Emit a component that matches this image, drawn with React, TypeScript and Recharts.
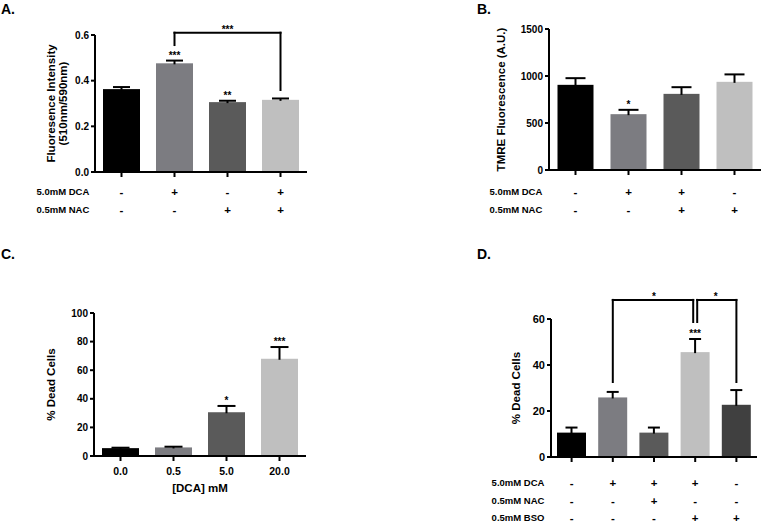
import { BarChart, Bar, XAxis, YAxis, Cell, ReferenceLine } from "recharts";

const FONT = '"Liberation Sans", Arial, Helvetica, sans-serif';

// A. DCFDA fluorescence
const A_GROUPS = ["a1", "a2", "a3", "a4"];
const A_VALUES = [0.363, 0.476, 0.306, 0.316];
const A_ERRORS = [0.009, 0.012, 0.006, 0.006];
const A_SIG = ["", "***", "**", ""];
const A_DCA = ["-", "+", "-", "+"];
const A_NAC = ["-", "-", "+", "+"];
const A_TICKS = [0, 0.2, 0.4, 0.6];

// B. TMRE
const B_GROUPS = ["b1", "b2", "b3", "b4"];
const B_VALUES = [906, 594, 810, 938];
const B_ERRORS = [71, 46, 71, 79];
const B_SIG = ["", "*", "", ""];
const B_DCA = ["-", "+", "+", "-"];
const B_NAC = ["-", "-", "+", "+"];
const B_TICKS = [0, 500, 1000, 1500];

// C. dose response
const C_DOSES = ["0.0", "0.5", "5.0", "20.0"];
const C_VALUES = [5.5, 6.0, 30.6, 68.0];
const C_ERRORS = [0.3, 0.5, 4.4, 8.2];
const C_SIG = ["", "", "*", "***"];
const C_TICKS = [0, 20, 40, 60, 80, 100];

// D. NAC / BSO
const D_GROUPS = ["d1", "d2", "d3", "d4", "d5"];
const D_VALUES = [10.6, 25.9, 10.6, 45.6, 22.7];
const D_ERRORS = [2.2, 2.4, 2.2, 5.7, 6.4];
const D_SIG = ["", "", "", "***", ""];
const D_DCA = ["-", "+", "+", "+", "-"];
const D_NAC = ["-", "-", "+", "-", "-"];
const D_BSO = ["-", "-", "-", "+", "+"];
const D_TICKS = [0, 20, 40, 60];

const A_BRACKETS = [
  { from: "a2", to: "a4", top: 0.61, fromY: 0.556, toY: 0.359, label: "***", dxFrom: 0, dxTo: 0 },
];
const D_BRACKETS = [
  { from: "d2", to: "d4", top: 68.3, fromY: 32.6, toY: 58.7, label: "*", dxFrom: 0, dxTo: -2 },
  { from: "d4", to: "d5", top: 68.3, fromY: 58.7, toY: 32.6, label: "*", dxFrom: 2, dxTo: 0 },
];

const COLORS_4 = ["#000000", "#7c7c81", "#5a5a5a", "#bfbfbf"];
const COLORS_5 = ["#000000", "#7c7c81", "#5a5a5a", "#bfbfbf", "#404040"];

function makeRows(names: string[], values: number[], errors: number[], sig: string[]) {
  return names.map((name, i) => ({ name, value: values[i], err: errors[i], sig: sig[i] }));
}

function BarWithError(props: any) {
  const { x, y, width, height, fill, payload, capHalf } = props;
  const perUnit = payload.value ? height / payload.value : 0;
  const top = y - payload.err * perUnit;
  const cx = x + width / 2;
  return (
    <g>
      <rect x={x} y={y} width={width} height={height} fill={fill} />
      <line x1={cx} y1={y + 1} x2={cx} y2={top} stroke="#000" strokeWidth={2} />
      <line x1={cx - capHalf} y1={top} x2={cx + capHalf} y2={top} stroke="#000" strokeWidth={2} />
      {payload.sig ? (
        <text x={cx} y={top - 2} textAnchor="middle" fontSize={10} fontWeight="bold" fontFamily={FONT} fill="#000">
          {payload.sig}
        </text>
      ) : null}
    </g>
  );
}

function SignTick(props: any) {
  const { x, y, index, rows, rowDy, labelDx } = props;
  return (
    <g>
      {rows.map((r: any, i: number) => (
        <g key={r.label}>
          <text x={x} y={y + rowDy[i]} dy="0.35em" textAnchor="middle" fontSize={11.5} fontWeight="bold" fontFamily={FONT} fill="#000">
            {r.signs[index]}
          </text>
          {index === 0 && (
            <text x={x + labelDx} y={y + rowDy[i]} dy="0.35em" textAnchor="start" fontSize={9.5} fontWeight="bold" fontFamily={FONT} fill="#000">
              {r.label}
            </text>
          )}
        </g>
      ))}
    </g>
  );
}

function DoseTick(props: any) {
  const { x, y, payload } = props;
  return (
    <text x={x} y={y + 10} dy="0.35em" textAnchor="middle" fontSize={10.5} fontWeight="bold" fontFamily={FONT} fill="#000">
      {payload.value}
    </text>
  );
}

function YTitle(props: any) {
  const { viewBox, lines, xs, size } = props;
  const cy = viewBox.y + viewBox.height / 2;
  return (
    <g>
      {lines.map((t: string, i: number) => (
        <text key={i} x={xs[i]} y={cy} transform={`rotate(-90 ${xs[i]} ${cy})`} textAnchor="middle" fontSize={size} fontWeight="bold" fontFamily={FONT} fill="#000">
          {t}
        </text>
      ))}
    </g>
  );
}

function XTitle(props: any) {
  const { viewBox, text, dy } = props;
  return (
    <text x={viewBox.x + viewBox.width / 2} y={viewBox.y + dy} textAnchor="middle" fontSize={11.5} fontWeight="bold" fontFamily={FONT} fill="#000">
      {text}
    </text>
  );
}

const shifted = (dx1: number, dx2: number) => (p: any) => (
  <line x1={p.x1 + dx1} y1={p.y1} x2={p.x2 + dx2} y2={p.y2} stroke="#000" strokeWidth={2} strokeLinecap="square" />
);

function bracketLines(brackets: any[]) {
  return brackets.flatMap((b, i) => [
    <ReferenceLine key={`l${i}`} ifOverflow="visible" segment={[{ x: b.from, y: b.fromY }, { x: b.from, y: b.top }]} shape={shifted(b.dxFrom, b.dxFrom)} />,
    <ReferenceLine
      key={`h${i}`}
      ifOverflow="visible"
      segment={[{ x: b.from, y: b.top }, { x: b.to, y: b.top }]}
      shape={shifted(b.dxFrom, b.dxTo)}
      label={{ value: b.label, position: "top", offset: 0, fontSize: 10, fontWeight: "bold", fill: "#000", fontFamily: FONT }}
    />,
    <ReferenceLine key={`r${i}`} ifOverflow="visible" segment={[{ x: b.to, y: b.top }, { x: b.to, y: b.toY }]} shape={shifted(b.dxTo, b.dxTo)} />,
  ]);
}

const axisLine = { stroke: "#000", strokeWidth: 2 };
const yTick = { fill: "#000", fontSize: 10, fontWeight: "bold", fontFamily: FONT };

function Panel(p: any) {
  return (
    <div style={{ position: "absolute", left: p.left, top: p.top }}>
      <BarChart width={p.width} height={p.height} data={p.data} margin={p.margin} barCategoryGap={p.gap}>
        <XAxis
          dataKey="name"
          interval={0}
          height={p.xHeight}
          axisLine={axisLine}
          tickLine={axisLine}
          tickSize={5}
          tickMargin={0}
          tick={p.tick}
          label={p.xLabel}
        />
        <YAxis
          width={p.yWidth}
          domain={p.domain}
          ticks={p.ticks}
          interval={0}
          tickFormatter={p.fmt}
          axisLine={axisLine}
          tickLine={axisLine}
          tickSize={4}
          tickMargin={2}
          tick={{ ...yTick, fontSize: p.yFont ?? 10 }}
          label={<YTitle lines={p.titleLines} xs={p.titleXs} size={11.5} />}
        />
        <Bar dataKey="value" isAnimationActive={false} shape={(s: any) => <BarWithError {...s} capHalf={p.cap} />}>
          {p.data.map((_: any, i: number) => (
            <Cell key={i} fill={p.colors[i % p.colors.length]} />
          ))}
        </Bar>
        {bracketLines(p.brackets ?? [])}
      </BarChart>
    </div>
  );
}

const letter = (t: string, left: number, top: number) => (
  <div style={{ position: "absolute", left, top, fontSize: 14, lineHeight: "14px", fontWeight: "bold" }}>{t}</div>
);

export default function App() {
  const aRows = [
    { label: "5.0mM DCA", signs: A_DCA },
    { label: "0.5mM NAC", signs: A_NAC },
  ];
  const bRows = [
    { label: "5.0mM DCA", signs: B_DCA },
    { label: "0.5mM NAC", signs: B_NAC },
  ];
  const dRows = [
    { label: "5.0mM DCA", signs: D_DCA },
    { label: "0.5mM NAC", signs: D_NAC },
    { label: "0.5mM BSO", signs: D_BSO },
  ];

  return (
    <div style={{ position: "absolute", left: 0, top: 0, width: 763, height: 523, background: "#fff", fontFamily: FONT, overflow: "hidden" }}>
      {letter("A.", 1, 2)}
      {letter("B.", 477, 2)}
      {letter("C.", 1, 247)}
      {letter("D.", 477, 247)}

      <Panel
        left={0}
        top={0}
        width={320}
        height={230}
        margin={{ top: 35, right: 13, bottom: 8, left: 0 }}
        yWidth={95}
        xHeight={50}
        gap={8}
        cap={8.5}
        data={makeRows(A_GROUPS, A_VALUES, A_ERRORS, A_SIG)}
        colors={COLORS_4}
        domain={[0, 0.6]}
        ticks={A_TICKS}
        fmt={(v: number) => v.toFixed(1)}
        titleLines={["Fluoresence Intensity", "(510nm/590nm)"]}
        titleXs={[55, 67]}
        tick={<SignTick rows={aRows} rowDy={[15, 33]} labelDx={-85} />}
        brackets={A_BRACKETS}
      />

      <Panel
        left={380}
        top={0}
        width={383}
        height={230}
        margin={{ top: 29, right: 2, bottom: 10, left: 0 }}
        yWidth={169}
        xHeight={50}
        gap={8.5}
        cap={10}
        data={makeRows(B_GROUPS, B_VALUES, B_ERRORS, B_SIG)}
        colors={COLORS_4}
        domain={[0, 1500]}
        ticks={B_TICKS}
        titleLines={["TMRE Fluorescence (A.U.)"]}
        titleXs={[125]}
        tick={<SignTick rows={bRows} rowDy={[17, 35]} labelDx={-86} />}
      />

      <Panel
        left={0}
        top={260}
        width={320}
        height={263}
        margin={{ top: 53, right: 14, bottom: 17, left: 0 }}
        yWidth={94}
        xHeight={50}
        gap={8}
        cap={9}
        data={makeRows(C_DOSES, C_VALUES, C_ERRORS, C_SIG)}
        colors={COLORS_4}
        domain={[0, 100]}
        ticks={C_TICKS}
        titleLines={["% Dead Cells"]}
        titleXs={[55]}
        tick={<DoseTick />}
        xLabel={<XTitle text="[DCA] mM" dy={36} />}
      />

      <Panel
        left={380}
        top={260}
        width={383}
        height={270}
        margin={{ top: 59, right: 6, bottom: 7, left: 0 }}
        yWidth={171}
        xHeight={66}
        gap={6}
        cap={6}
        yFont={11}
        data={makeRows(D_GROUPS, D_VALUES, D_ERRORS, D_SIG)}
        colors={COLORS_5}
        domain={[0, 60]}
        ticks={D_TICKS}
        titleLines={["% Dead Cells"]}
        titleXs={[140]}
        tick={<SignTick rows={dRows} rowDy={[21, 39, 56]} labelDx={-80} />}
        brackets={D_BRACKETS}
      />
    </div>
  );
}
